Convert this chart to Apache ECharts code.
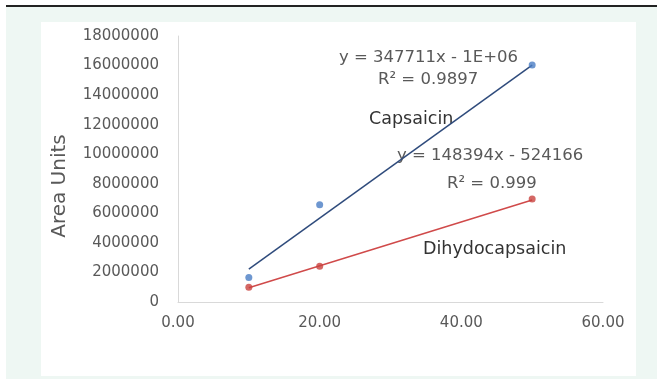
<!DOCTYPE html>
<html>
<head>
<meta charset="utf-8">
<script src="https://cdn.jsdelivr.net/npm/echarts@6/dist/echarts.min.js"></script>
<style>
  html, body { margin: 0; padding: 0; background: #fff; }
  #chart { width: 657px; height: 379px; }
</style>
</head>
<body>
<div id="chart"></div>
<script>
// concentration (x) and peak area (y)
const concentrations = [10, 20, 50];
const capsaicinArea = [1650000, 6580000, 16030000];
const dihydroArea = [1000000, 2420000, 6970000];

// trend line end points
const trendX = [10, 50];
const capsaicinTrend = [2230000, 16030000];
const dihydroTrend = [960000, 6900000];

const xTicks = [0, 20, 40, 60];
const yMax = 18000000;

const pairs = (xs, ys) => xs.map((x, i) => [x, ys[i]]);

const labelColor = '#595959';
const font = 'DejaVu Sans';

const chart = echarts.init(document.getElementById('chart'));

chart.setOption({
  animation: false,
  backgroundColor: '#fff',
  graphic: [
    // page background and the white card
    { type: 'rect', z: -10, shape: { x: 6, y: 7, width: 651, height: 372 }, style: { fill: '#eef7f3' } },
    { type: 'rect', z: -9, shape: { x: 41, y: 22, width: 595, height: 354 }, style: { fill: '#fff' } },
    { type: 'rect', z: -8, shape: { x: 6, y: 5, width: 651, height: 2 }, style: { fill: '#222' } },
    // axis title
    {
      type: 'text', x: 60, y: 186, rotation: Math.PI / 2,
      style: { text: 'Area Units', fill: labelColor, font: '20px ' + font, align: 'center', verticalAlign: 'middle' }
    },
    // equation labels
    { type: 'text', left: 339, top: 49, style: { text: 'y = 347711x - 1E+06', fill: labelColor, font: '16.5px ' + font } },
    { type: 'text', left: 378, top: 71, style: { text: 'R² = 0.9897', fill: labelColor, font: '16.5px ' + font } },
    { type: 'text', left: 369, top: 110, style: { text: 'Capsaicin', fill: '#333', font: '17.5px ' + font } },
    { type: 'text', left: 397, top: 147, style: { text: 'y = 148394x - 524166', fill: labelColor, font: '16.5px ' + font } },
    { type: 'text', left: 447, top: 175, style: { text: 'R² = 0.999', fill: labelColor, font: '16.5px ' + font } },
    { type: 'text', left: 423, top: 240, style: { text: 'Dihydocapsaicin', fill: '#333', font: '17.5px ' + font } }
  ],
  grid: { left: 178, right: 54, top: 36, bottom: 77 },
  xAxis: {
    type: 'value',
    min: xTicks[0],
    max: xTicks[xTicks.length - 1],
    interval: 20,
    splitLine: { show: false },
    axisTick: { show: false },
    axisLine: { lineStyle: { color: '#d9d9d9', width: 1 } },
    axisLabel: {
      color: labelColor, fontSize: 15, fontFamily: font, margin: 14,
      formatter: v => v.toFixed(2)
    }
  },
  yAxis: {
    type: 'value',
    min: 0,
    max: yMax,
    interval: 2000000,
    splitLine: { show: false },
    axisTick: { show: false },
    axisLine: { show: true, lineStyle: { color: '#d9d9d9', width: 1 } },
    axisLabel: { color: labelColor, fontSize: 15, fontFamily: font, margin: 19, formatter: v => String(v) }
  },
  series: [
    {
      type: 'line',
      data: pairs(trendX, capsaicinTrend),
      showSymbol: false,
      lineStyle: { color: '#2f4b7c', width: 1.5 },
      z: 2
    },
    {
      type: 'line',
      data: pairs(trendX, dihydroTrend),
      showSymbol: false,
      lineStyle: { color: '#d04a4a', width: 1.5 },
      z: 2
    },
    {
      type: 'scatter',
      data: pairs(concentrations, capsaicinArea),
      symbolSize: 7,
      itemStyle: { color: '#4a7dc4' },
      z: 3
    },
    {
      type: 'scatter',
      data: pairs(concentrations, dihydroArea),
      symbolSize: 7,
      itemStyle: { color: '#c9423f' },
      z: 3
    }
  ]
});
</script>
</body>
</html>
